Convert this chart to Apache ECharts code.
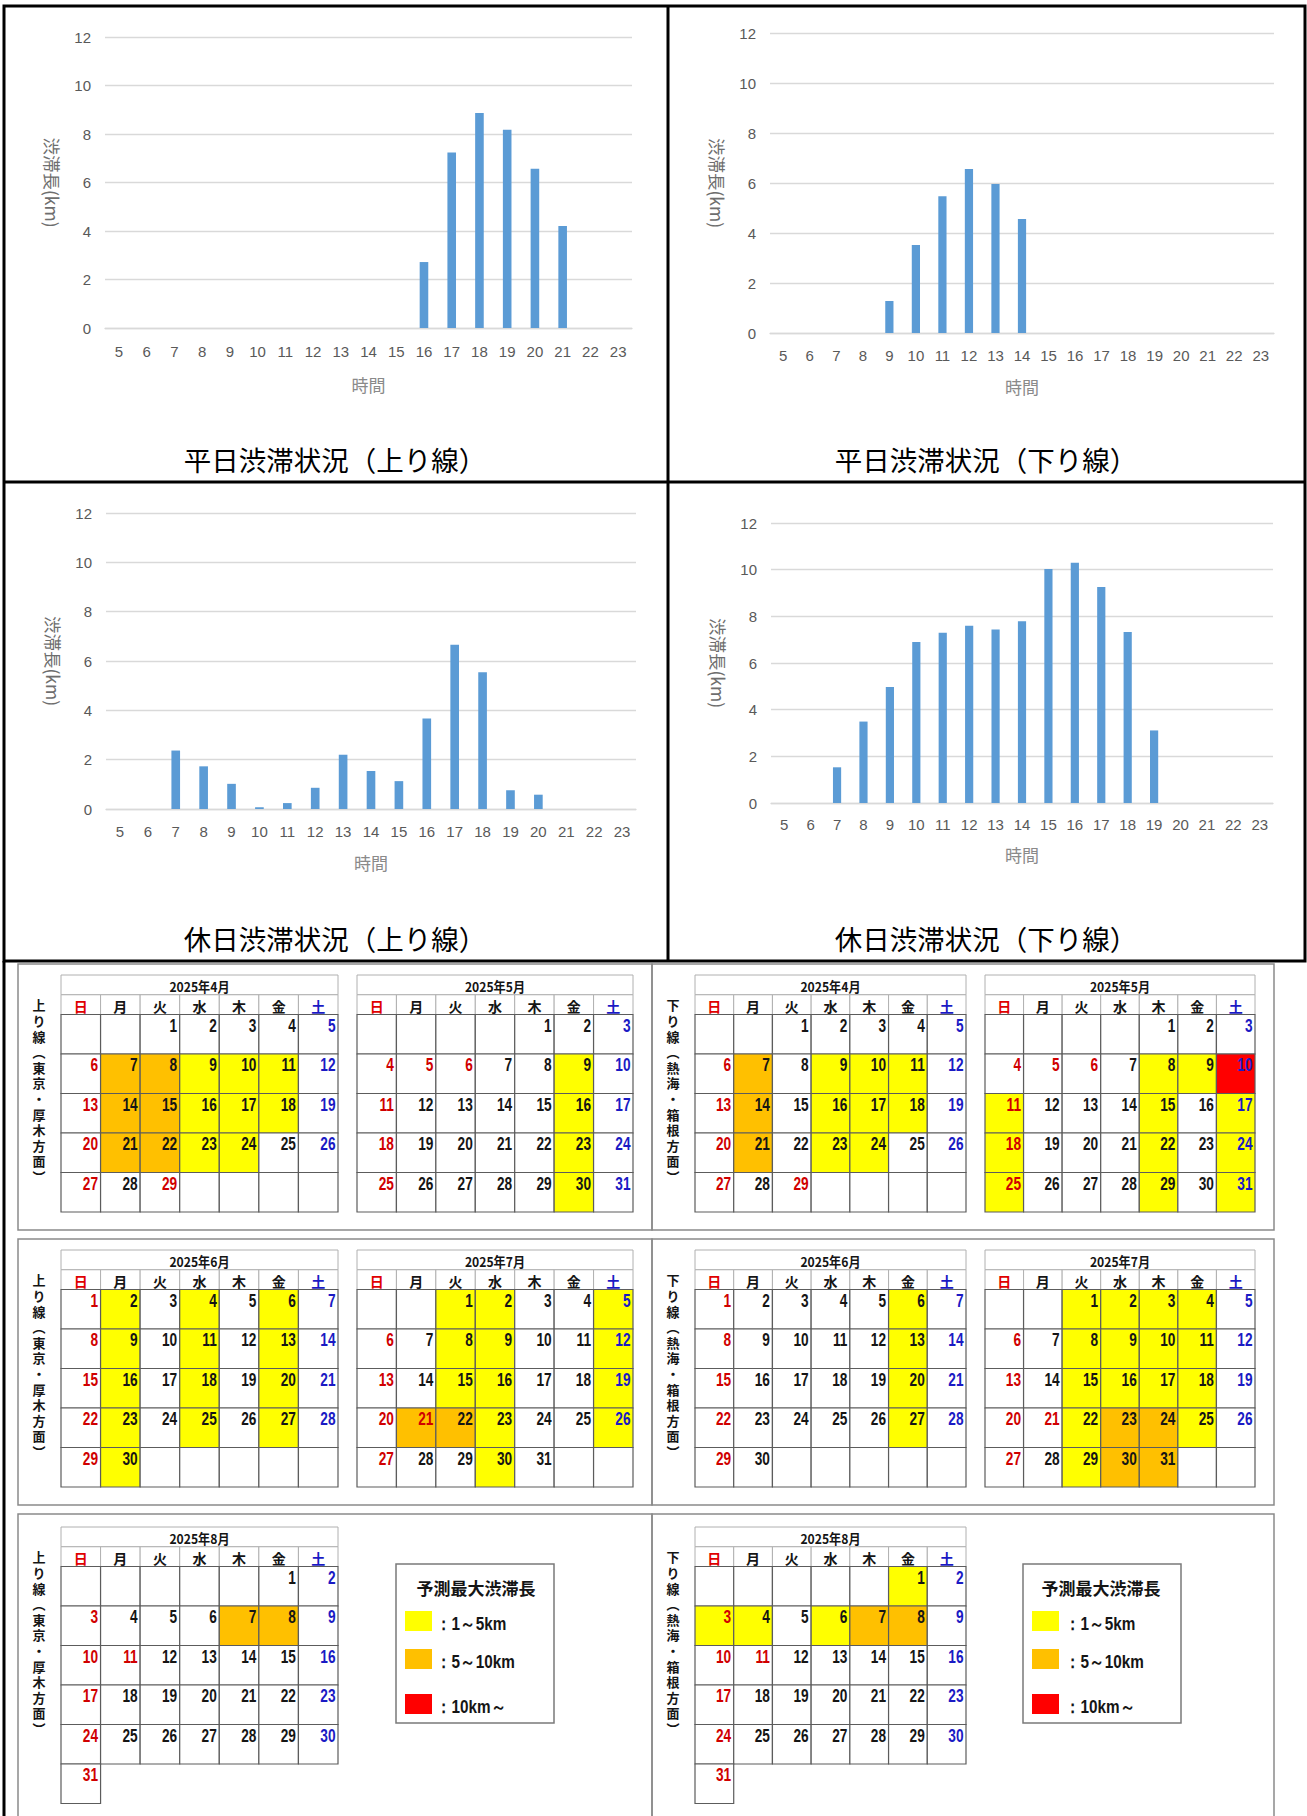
<!DOCTYPE html>
<html><head><meta charset="utf-8">
<script src="https://cdn.jsdelivr.net/npm/echarts@6/dist/echarts.min.js"></script>
<style>html,body{margin:0;padding:0;background:#fff}#c{width:1307px;height:1816px}</style>
</head><body><div id="c"></div>
<script>
// ---------- bar chart data ----------
const hours = ['5','6','7','8','9','10','11','12','13','14','15','16','17','18','19','20','21','22','23'];
const weekdayUp     = [0,0,0,0,0,0,0,0,0,0,0,2.72,7.24,8.87,8.18,6.57,4.21,0,0];
const weekdayDown   = [0,0,0,0,1.28,3.52,5.47,6.56,5.96,4.56,0,0,0,0,0,0,0,0,0];
const holidayUp     = [0,0,2.37,1.73,1.02,0.07,0.24,0.86,2.2,1.54,1.13,3.67,6.66,5.54,0.76,0.58,0,0,0];
const holidayDown   = [0,0,1.53,3.49,4.97,6.9,7.3,7.6,7.44,7.79,10.03,10.3,9.26,7.33,3.11,0,0,0,0];
const chartTitles = ['平日渋滞状況（上り線）','平日渋滞状況（下り線）','休日渋滞状況（上り線）','休日渋滞状況（下り線）'];
const yName = '渋滞長(km)';
const xName = '時間';

// ---------- calendar data ----------
const weekDays = ['日','月','火','水','木','金','土'];
const holidays2025 = ['4-29','5-5','5-6','7-21','8-11'];
const upAprYellow = [9,10,11,16,17,18,23,24];
const upAprOrange = [7,8,14,15,21,22];
const upMayYellow = [9,16,23,30];
const upJunYellow = [2,4,6,9,11,13,16,18,20,23,25,27,30];
const upJulYellow = [1,2,5,8,9,12,15,16,19,23,26,30];
const upJulOrange = [21,22];
const upAugOrange = [7,8];
const downAprYellow = [9,10,11,16,17,18,23,24];
const downAprOrange = [7,14,21];
const downMayYellow = [8,9,11,15,17,18,22,24,25,29,31];
const downMayRed = [10];
const downJunYellow = [6,13,20,27];
const downJulYellow = [1,2,3,4,8,9,10,11,15,16,17,18,22,25,29];
const downJulOrange = [23,24,30,31];
const downAugYellow = [1,3,4,6];
const downAugOrange = [7,8];
const lastShownDay = {4:29, 5:31, 6:30, 7:31, 8:31};
const legendTitle = '予測最大渋滞長';
const legendLabels = ['：1～5km','：5～10km','：10km～'];
const upLabel = '上り線︵東京・厚木方面︶';
const downLabel = '下り線︵熱海・箱根方面︶';

const levelColors = ['#ffffff','#ffff00','#ffc000','#ff0000'];
const numColors = ['#151515','#d00000','#1a1ac4'];
const NUMFONT = '"Liberation Sans","Arial",sans-serif';
const JP = '"Noto Sans CJK JP","Noto Sans",sans-serif';

// calendars: [year, month, yellow, orange, red, left, top, width]
const calendars = [
  [2025,4,upAprYellow,upAprOrange,[],61,975,277],
  [2025,5,upMayYellow,[],[],357,975,276],
  [2025,6,upJunYellow,[],[],61,1250,277],
  [2025,7,upJulYellow,upJulOrange,[],357,1250,276],
  [2025,8,[],upAugOrange,[],61,1527,277],
  [2025,4,downAprYellow,downAprOrange,[],695,975,271],
  [2025,5,downMayYellow,[],downMayRed,985,975,270],
  [2025,6,downJunYellow,[],[],695,1250,271],
  [2025,7,downJulYellow,downJulOrange,[],985,1250,270],
  [2025,8,downAugYellow,downAugOrange,[],695,1527,271]
];

function slots(year, month, yellow, orange, red){
  const first = new Date(year, month-1, 1).getDay();
  const n = new Date(year, month, 0).getDate();
  const shown = lastShownDay[month];
  const rows = Math.ceil((first+n)/7);
  const out = [];
  for (let r=0;r<rows;r++) for (let c=0;c<7;c++){
    const d = r*7+c-first+1;
    const valid = d>=1 && d<=shown;
    if (!valid && r>=5) continue;
    const lv = !valid?0 : red.includes(d)?3 : orange.includes(d)?2 : yellow.includes(d)?1 : 0;
    const tc = !valid?0 : (c===0 || holidays2025.includes(month+'-'+d))?1 : (c===6?2:0);
    out.push([c, r, valid?d:0, lv, tc]);
  }
  return {data: out, rows};
}

function cellRender(params, api){
  const c=api.value(0), r=api.value(1), d=api.value(2), lv=api.value(3), tc=api.value(4);
  const a=api.coord([c,2+2*r]), b=api.coord([c+1,4+2*r]);
  const ch=[{type:'rect',shape:{x:a[0],y:a[1],width:b[0]-a[0],height:b[1]-a[1]},
    style:{fill:levelColors[lv],stroke:'#5c5c5c',lineWidth:1.2}}];
  if (d) ch.push({type:'text',x:b[0]-2.5,y:a[1]+2,scaleX:0.76,
    style:{text:String(d),x:0,y:0,align:'right',verticalAlign:'top',
    fill:numColors[tc],font:'bold 18px '+NUMFONT}});
  return {type:'group',children:ch};
}
function headRender(params, api){
  const c=api.value(0);
  const a=api.coord([c,1]), b=api.coord([c+1,2]);
  return {type:'group',children:[
    {type:'rect',shape:{x:a[0],y:a[1],width:b[0]-a[0],height:b[1]-a[1]},style:{fill:'#fff',stroke:'#b0b0b0',lineWidth:1}},
    {type:'text',style:{text:weekDays[c],x:(a[0]+b[0])/2,y:(a[1]+b[1])/2+1,align:'center',verticalAlign:'middle',
      fill:c===0?'#e00000':(c===6?'#1a1ac4':'#151515'),font:'bold 14px '+JP}}]};
}
function titleRender(text){
  return function(params, api){
    const a=api.coord([0,0]), b=api.coord([7,1]);
    return {type:'group',children:[
      {type:'rect',shape:{x:a[0],y:a[1],width:b[0]-a[0],height:b[1]-a[1]},style:{fill:'#fff',stroke:'#b0b0b0',lineWidth:1}},
      {type:'text',x:(a[0]+b[0])/2,y:(a[1]+b[1])/2+1,scaleX:0.9,
        style:{text:text,x:0,y:0,align:'center',verticalAlign:'middle',fill:'#151515',font:'bold 13.5px '+JP}}]};
  };
}

// ---------- bar charts layout ----------
const barGrids = [
  {left:105,top:37,width:527,height:291, xm:16, xg:48, yg:44, tx:330},
  {left:770,top:33,width:504,height:300, xm:15, xg:45, yg:44, tx:981},
  {left:106,top:513,width:530,height:296, xm:15, xg:45, yg:44, tx:330},
  {left:771,top:523,width:502,height:280, xm:14, xg:43, yg:44, tx:981}
];
const titleTops = [440,440,919,919];
const barData = [weekdayUp, weekdayDown, holidayUp, holidayDown];

const grid=[], xAxis=[], yAxis=[], series=[], title=[];
barGrids.forEach((g,i)=>{
  grid.push({left:g.left,top:g.top,width:g.width,height:g.height});
  xAxis.push({type:'category',gridIndex:i,data:hours,axisTick:{show:false},
    axisLine:{lineStyle:{color:'#d9d9d9',width:1.3}},
    axisLabel:{color:'#595959',fontSize:15,margin:g.xm,interval:0,fontFamily:'"Liberation Sans",sans-serif'},
    name:xName,nameLocation:'middle',nameGap:g.xg,nameTextStyle:{color:'#8a8a8a',fontSize:17,fontFamily:JP}});
  yAxis.push({type:'value',gridIndex:i,min:0,max:12,interval:2,
    axisLabel:{color:'#595959',fontSize:15,margin:14,fontFamily:'"Liberation Sans",sans-serif'},
    splitLine:{lineStyle:{color:'#d9d9d9',width:1.3}},axisLine:{show:false},axisTick:{show:false},
    name:yName,nameLocation:'middle',nameRotate:-90,nameGap:g.yg,nameTextStyle:{color:'#6e6e6e',fontSize:17.5,fontFamily:JP}});
  series.push({type:'bar',xAxisIndex:i,yAxisIndex:i,data:barData[i],barWidth:'31%',itemStyle:{color:'#5b9bd5'},silent:true});
  title.push({text:chartTitles[i],left:g.tx,top:titleTops[i],textAlign:'center',
    textStyle:{fontSize:27.5,fontWeight:'normal',color:'#000',fontFamily:JP}});
});

const UNIT = 19.75;
calendars.forEach((cal,k)=>{
  const [yr,mo,ye,or,re,left,top,width] = cal;
  const s = slots(yr,mo,ye,or,re);
  const ymax = Math.max(12, 2+2*s.rows);
  const gi = grid.length;
  grid.push({left:left,top:top,width:width,height:UNIT*ymax});
  xAxis.push({type:'value',gridIndex:gi,min:0,max:7,show:false});
  yAxis.push({type:'value',gridIndex:gi,min:0,max:ymax,inverse:true,show:false});
  series.push({type:'custom',xAxisIndex:gi,yAxisIndex:gi,renderItem:titleRender(yr+'年'+mo+'月'),data:[[0]],silent:true});
  series.push({type:'custom',xAxisIndex:gi,yAxisIndex:gi,renderItem:headRender,data:weekDays.map((w,i)=>[i]),silent:true});
  series.push({type:'custom',xAxisIndex:gi,yAxisIndex:gi,renderItem:cellRender,data:s.data,silent:true});
});

// ---------- decorations ----------
const graphic = [
  {type:'rect',shape:{x:4,y:6,width:1301,height:955},style:{fill:'none',stroke:'#000',lineWidth:3},silent:true},
  {type:'line',shape:{x1:668,y1:6,x2:668,y2:961},style:{stroke:'#000',lineWidth:3},silent:true},
  {type:'line',shape:{x1:4,y1:482,x2:1305,y2:482},style:{stroke:'#000',lineWidth:3},silent:true},
  {type:'line',shape:{x1:4,y1:961,x2:4,y2:1816},style:{stroke:'#000',lineWidth:3},silent:true}
];
const rowTops = [964,1239,1514];
const rowBottoms = [1230,1505,1830];
const labelTops = [997,1272,1549];
const LSTEP = 15.6;
rowTops.forEach((t,i)=>{
  graphic.push({type:'rect',shape:{x:18,y:t,width:634,height:rowBottoms[i]-t},style:{fill:'none',stroke:'#8a8a8a',lineWidth:1.5},silent:true,z:-1});
  graphic.push({type:'rect',shape:{x:652,y:t,width:622,height:rowBottoms[i]-t},style:{fill:'none',stroke:'#8a8a8a',lineWidth:1.5},silent:true,z:-1});
  [[39,upLabel],[673,downLabel]].forEach(([lx,lab])=>{
    lab.split('').forEach((chr,j)=>{
      graphic.push({type:'text',x:lx,y:labelTops[i]+LSTEP*j+LSTEP/2,style:{text:chr,align:'center',verticalAlign:'middle',
        font:'bold 13px '+JP,fill:'#151515'},silent:true});
    });
  });
});
[[396,405,476,444],[1023,1032,1101,1073]].forEach(([bx,sx,tcx,lx])=>{
  graphic.push({type:'rect',shape:{x:bx,y:1564,width:158,height:159},style:{fill:'#fff',stroke:'#7a7a7a',lineWidth:1.5},silent:true});
  graphic.push({type:'text',x:tcx,y:1587,style:{text:legendTitle,align:'center',verticalAlign:'middle',font:'bold 17px '+JP,fill:'#151515'},silent:true});
  const ys=[1621,1659,1704];
  ys.forEach((y,j)=>{
    graphic.push({type:'rect',shape:{x:sx,y:y-10,width:27,height:20},style:{fill:levelColors[j+1]},silent:true});
    graphic.push({type:'text',x:lx-8,y:y+3,scaleX:0.85,style:{text:legendLabels[j],x:0,y:0,align:'left',verticalAlign:'middle',font:'bold 18px '+NUMFONT,fill:'#151515'},silent:true});
  });
});

const chart = echarts.init(document.getElementById('c'),null,{renderer:'svg'});
chart.setOption({animation:false,backgroundColor:'#fff',title,grid,xAxis,yAxis,series,graphic});
</script></body></html>
